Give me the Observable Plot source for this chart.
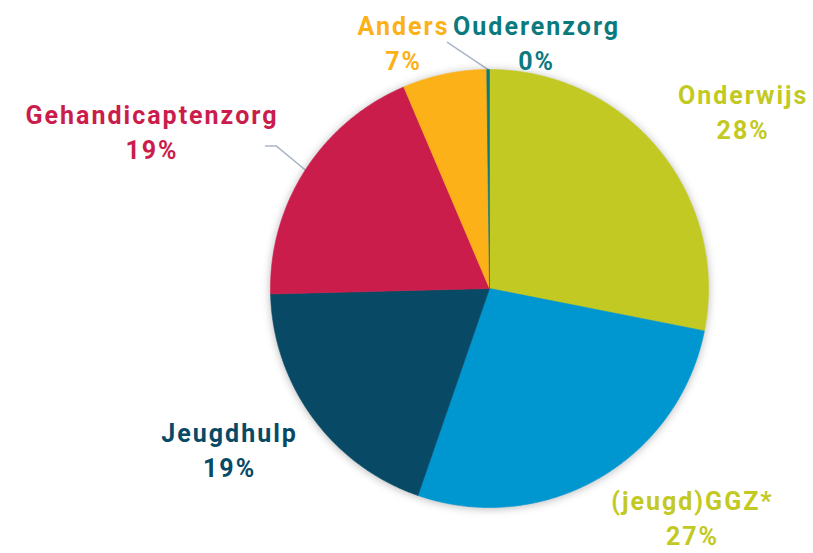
<!DOCTYPE html>
<html>
<head>
<meta charset="utf-8">
<script src="https://cdn.jsdelivr.net/npm/d3@7"></script>
<script src="https://cdn.jsdelivr.net/npm/@observablehq/plot@0.6"></script>
<style>
  html, body { margin: 0; padding: 0; background: #ffffff; }
  #chart { width: 813px; height: 553px; }
</style>
</head>
<body>
<div id="chart"></div>
<script>
// ---- data ----
const names = ["Onderwijs", "(jeugd)GGZ*", "Jeugdhulp", "Gehandicaptenzorg", "Anders", "Ouderenzorg"];
const shares = [28.1, 27.2, 19.3, 19.0, 6.2, 0.2];
const shareLabels = ["28%", "27%", "19%", "19%", "7%", "0%"];
const sliceColors = ["#c3c923", "#0096d0", "#084a66", "#cb1d4b", "#fbb117", "#0b7a7e"];
const labelColors = ["#c3c923", "#c3c923", "#084a66", "#cb1d4b", "#fbb117", "#0b7a7e"];

// ---- label layout (angle in degrees clockwise from 12 o'clock, radius in pie radii) ----
const labelAngle = [55.2, 138.8, 238.0, 294.6, 340.4, 370.7];
const labelRadius = [1.405, 1.40, 1.405, 1.70, 1.183, 1.134];

// ---- build slices ----
const total = d3.sum(shares);
const rad = (deg) => deg * Math.PI / 180;
const polar = (deg, r) => ({x: r * Math.sin(rad(deg)), y: r * Math.cos(rad(deg))});

let acc = 0;
const slices = names.map((name, i) => {
  const a0 = acc / total * 360;
  acc += shares[i];
  const a1 = acc / total * 360;
  return {name, a0, a1, mid: (a0 + a1) / 2, color: sliceColors[i]};
});

const piePoints = [];
for (const s of slices) {
  const n = Math.max(2, Math.ceil((s.a1 - s.a0) / 0.5));
  piePoints.push({name: s.name, color: s.color, x: 0, y: 0});
  for (let k = 0; k <= n; k++) {
    const p = polar(s.a0 + (s.a1 - s.a0) * k / n, 1);
    piePoints.push({name: s.name, color: s.color, x: p.x, y: p.y});
  }
  piePoints.push({name: s.name, color: s.color, x: 0, y: 0});
}

const labels = names.map((name, i) => {
  const p = polar(labelAngle[i], labelRadius[i]);
  return {text: name + "\n" + shareLabels[i], color: labelColors[i], x: p.x, y: p.y};
});

// leader lines: from slice edge at mid-angle outward
const gh = slices[3], oz = slices[5];
const g0 = polar(gh.mid, 1.0), g1 = polar(gh.mid + 1.0, 1.17);
const o0 = polar(oz.mid, 1.0), o1 = polar(350.3, 1.14);
const leaderPoints = [
  {id: "g", x: g0.x, y: g0.y},
  {id: "g", x: g1.x, y: g1.y},
  {id: "g", x: g1.x - 0.05, y: g1.y},
  {id: "o", x: o0.x, y: o0.y},
  {id: "o", x: o1.x, y: o1.y}
];

const chart = Plot.plot({
  width: 813,
  height: 553,
  marginLeft: 270,
  marginRight: 105,
  marginTop: 69,
  marginBottom: 46,
  x: {axis: null, domain: [-1, 1]},
  y: {axis: null, domain: [-1, 1]},
  color: {type: "identity"},
  style: {fontFamily: "Roboto, 'DejaVu Sans', sans-serif", letterSpacing: "2px"},
  marks: [
    Plot.line(leaderPoints, {x: "x", y: "y", z: "id", stroke: "#aab6c6", strokeWidth: 1.5}),
    Plot.line(piePoints, {x: "x", y: "y", z: "name", fill: "color", stroke: "color", strokeWidth: 0.6}),
    Plot.text(labels, {
      x: "x", y: "y", text: "text", fill: "color", dy: -3, dx: 1,
      fontSize: 25, fontWeight: 700, lineHeight: 1.4, textAnchor: "middle", lineAnchor: "middle"
    })
  ]
});

const lineGroups = chart.querySelectorAll('g[aria-label="line"]');
if (lineGroups.length > 1) lineGroups[1].style.filter = "drop-shadow(0px 1px 4px rgba(0,0,0,0.28))";
document.getElementById("chart").appendChild(chart);
</script>
</body>
</html>
